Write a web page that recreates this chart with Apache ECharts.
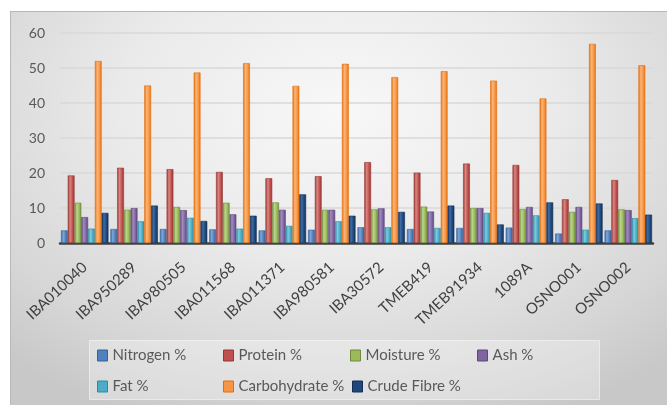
<!DOCTYPE html>
<html>
<head>
<meta charset="utf-8">
<script src="https://cdn.jsdelivr.net/npm/echarts@6/dist/echarts.min.js"></script>
<style>
html,body{margin:0;padding:0;background:#fff;}
#bg{position:absolute;left:10px;top:11px;width:657px;height:394px;
 border-left:1px solid #b8b8b8;border-top:1px solid #b8b8b8;
 background:radial-gradient(ellipse 75% 85% at 50% 25%, #f8f8f8 0%, #eaeaea 45%, #d6d6d6 80%, #c8c8c8 100%);}
#c{position:absolute;left:0;top:0;width:667px;height:405px;}
</style>
</head>
<body>
<div id="bg"></div>
<div id="c"></div>
<script>
const categories = ['IBA010040','IBA950289','IBA980505','IBA011568','IBA011371','IBA980581','IBA30572','TMEB419','TMEB91934','1089A','OSNO001','OSNO002'];
const seriesNames = ['Nitrogen %','Protein %','Moisture %','Ash %','Fat %','Carbohydrate %','Crude Fibre %'];
const nitrogen = [3.6,4.0,4.0,3.9,3.6,3.8,4.5,4.0,4.3,4.4,2.7,3.6];
const protein  = [19.3,21.5,21.1,20.3,18.5,19.1,23.1,20.1,22.7,22.3,12.5,18.0];
const moisture = [11.5,9.5,10.3,11.5,11.6,9.5,9.6,10.4,10.0,9.7,8.9,9.6];
const ash      = [7.4,10.0,9.4,8.2,9.5,9.5,9.9,9.0,10.0,10.3,10.3,9.4];
const fat      = [4.1,6.2,7.2,4.1,4.9,6.2,4.5,4.3,8.6,7.9,3.8,7.1];
const carbohydrate = [52.0,45.0,48.7,51.4,44.9,51.2,47.4,49.1,46.4,41.3,56.9,50.8];
const crudeFibre   = [8.6,10.7,6.3,7.8,13.9,7.8,8.9,10.7,5.3,11.6,11.3,8.1];
const yTicks = [0,10,20,30,40,50,60];

const values = [nitrogen, protein, moisture, ash, fat, carbohydrate, crudeFibre];
const base  = ['#4F81BD','#C0504D','#9BBB59','#8064A2','#4BACC6','#F79646','#1F497D'];
const light = ['#7FA6D8','#DA8582','#BAD68A','#A28BC2','#7DCBE0','#FBB577','#3E6BA6'];
const dark  = ['#34639C','#943633','#71893F','#5C4776','#2F8BA5','#E36C09','#142F52'];

function grad(i){
  return new echarts.graphic.LinearGradient(0,0,1,0,[
    {offset:0,color:dark[i]},
    {offset:0.35,color:light[i]},
    {offset:0.7,color:base[i]},
    {offset:1,color:dark[i]}
  ]);
}

const series = seriesNames.map((n,i)=>({
  name:n, type:'bar', data:values[i],
  barGap:'0%', barCategoryGap:'4%',
  itemStyle:{color:grad(i), borderColor:dark[i], borderWidth:0.6},
  emphasis:{disabled:true}
}));

const legendPos = [[97,348],[223,348],[350,348],[477,348],[97,379],[223,379],[352,379]];
const legends = seriesNames.map((n,i)=>({
  data:[{name:n, itemStyle:{color:base[i], borderColor:dark[i], borderWidth:1}}],
  left:legendPos[i][0], top:legendPos[i][1], padding:0,
  itemWidth:10, itemHeight:11, icon:'rect', selectedMode:false,
  textStyle:{fontFamily:'Lato', fontSize:15, color:'#595959'}
}));

const chart = echarts.init(document.getElementById('c'), null, {renderer:'canvas'});
chart.setOption({
  animation:false,
  backgroundColor:'transparent',
  graphic:[{type:'rect', left:89, top:340, shape:{width:510, height:59},
    style:{fill:'rgba(255,255,255,0.3)', stroke:'rgba(255,255,255,0.5)', lineWidth:1}, z:-1}],
  legend:legends,
  grid:{left:60, right:14, top:33, bottom:162, containLabel:false},
  xAxis:{type:'category', data:categories,
    axisLine:{lineStyle:{color:'#404040', width:2.5}},
    axisTick:{show:false},
    axisLabel:{rotate:43, interval:0, margin:22, fontFamily:'Lato', fontSize:15, color:'#404040'}
  },
  yAxis:{type:'value', min:yTicks[0], max:yTicks[yTicks.length-1], interval:10,
    axisLine:{show:false}, axisTick:{show:false},
    axisLabel:{margin:15, fontFamily:'Lato', fontSize:14, color:'#595959'},
    splitLine:{lineStyle:{color:'#d9d9d9', width:1.5}}
  },
  series:series
});
</script>
</body>
</html>
